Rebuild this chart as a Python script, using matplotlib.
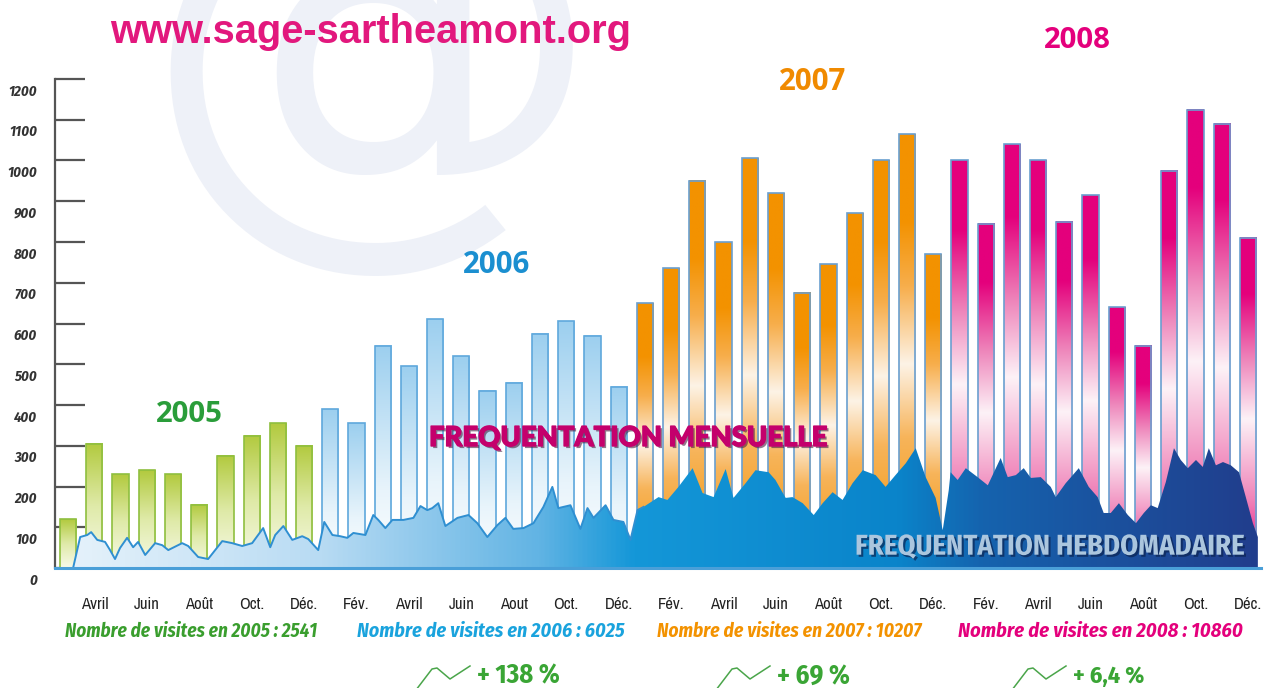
import numpy as np
import matplotlib
matplotlib.use("Agg")
import matplotlib.pyplot as plt
from matplotlib.colors import LinearSegmentedColormap
from matplotlib.patches import Rectangle
import matplotlib.patheffects as pe
import matplotlib.transforms as mtransforms
from matplotlib import font_manager

# ---------------- data ----------------
# monthly visits (2005 starts in March)
visits_2005 = [120, 305, 230, 240, 230, 155, 275, 325, 355, 300]
visits_2006 = [390, 355, 545, 495, 610, 520, 435, 455, 575, 605, 570, 445]
visits_2007 = [650, 735, 950, 800, 1005, 920, 675, 745, 870, 1000, 1065, 770]
visits_2008 = [1000, 845, 1040, 1000, 850, 915, 640, 545, 975, 1125, 1090, 810]

years = ["2005", "2006", "2007", "2008"]
year_totals = ["2541", "6025", "10207", "10860"]
growth_labels = ["+ 138 %", "+ 69 %", "+ 6,4 %"]

month_tick_pos = list(range(1, 46, 2))
month_tick_labels = ["Avril", "Juin", "Août", "Oct.", "Déc.",
                     "Fév.", "Avril", "Juin", "Aout", "Oct.", "Déc.",
                     "Fév.", "Avril", "Juin", "Août", "Oct.", "Déc.",
                     "Fév.", "Avril", "Juin", "Août", "Oct.", "Déc."]
y_ticks = list(range(0, 1300, 100))

# weekly visits; position in months counted from March 2005
week_pos = [0.19, 0.46, 0.73, 0.88, 1.11, 1.41, 1.60, 1.79, 1.98, 2.25, 2.48, 2.67,
            2.94, 3.32, 3.59, 3.82, 4.35, 4.58, 4.96, 5.34, 5.88, 6.26, 6.64, 7.02,
            7.44, 7.71, 7.90, 8.21, 8.55, 8.93, 9.16, 9.54, 9.77, 10.08, 10.38, 10.65,
            10.88, 11.34, 11.64, 11.83, 12.10, 12.37, 12.79, 13.17, 13.44, 13.70, 13.89,
            14.12, 14.39, 14.85, 15.27, 15.61, 15.99, 16.37, 16.68, 16.98, 17.37, 17.75,
            18.13, 18.47, 18.70, 19.16, 19.54, 19.81, 20.04, 20.50, 20.80, 21.18, 21.45,
            21.72, 21.95, 22.52, 22.86, 23.28, 23.82, 24.20, 24.62, 25.08, 25.38, 25.84,
            26.22, 26.72, 26.98, 27.37, 27.63, 28.02, 28.44, 28.78, 29.16, 29.54, 29.92,
            30.31, 30.80, 31.18, 31.56, 31.95, 32.33, 32.71, 33.09, 33.36, 33.59, 33.66,
            33.93, 34.24, 34.69, 35.08, 35.57, 35.84, 36.15, 36.45, 36.72, 37.10, 37.48,
            37.67, 38.05, 38.55, 38.93, 39.27, 39.50, 39.77, 40.08, 40.42, 40.73, 41.03,
            41.30, 41.56, 41.87, 42.18, 42.44, 42.71, 43.02, 43.28, 43.51, 43.78, 44.05,
            44.35, 44.66, 44.92, 45.19, 45.38]
week_visits = [0, 76, 81, 88, 69, 64, 44, 22, 49, 74, 51, 64,
               32, 61, 56, 44, 61, 54, 27, 22, 66, 61, 54, 61,
               98, 51, 81, 103, 69, 78, 71, 44, 113, 81, 78, 74,
               86, 81, 130, 118, 98, 118, 118, 123, 152, 142, 147,
               159, 103, 123, 130, 110, 76, 105, 123, 96, 98, 110,
               150, 199, 147, 154, 96, 147, 123, 154, 118, 113, 69,
               142, 150, 174, 167, 199, 245, 184, 174, 243, 172, 208,
               240, 235, 216, 172, 174, 159, 130, 159, 186, 167, 208,
               240, 228, 199, 228, 257, 294, 223, 172, 93, 191, 235,
               216, 245, 223, 203, 270, 223, 228, 245, 221, 223, 199,
               174, 208, 245, 199, 174, 135, 135, 159, 130, 110, 135,
               154, 147, 211, 294, 265, 245, 265, 248, 294, 252, 260,
               252, 235, 174, 110, 76]

# ---------------- fonts ----------------
TTF = font_manager.fontManager.ttflist


def wnum(w):
    try:
        return int(w)
    except (TypeError, ValueError):
        return font_manager.weight_dict.get(w, 400)


def pick(cands, minw=0, style="normal", default="DejaVu Sans"):
    for c in cands:
        for f in TTF:
            if f.name == c and wnum(f.weight) >= minw and f.style == style:
                return c
    return default


NARROW = pick(["Liberation Sans Narrow", "Arial Narrow", "Archivo Narrow", "Roboto Condensed",
               "Fira Sans Condensed", "PT Sans Narrow", "Encode Sans Condensed"])
COND_BI = pick(["Fira Sans Condensed", "Asap Condensed", "Roboto Condensed", "Encode Sans Condensed",
                "Archivo Narrow", "Liberation Sans Narrow"], minw=600, style="italic", default=NARROW)
COND_B = pick(["Fira Sans Condensed", "Asap Condensed", "Roboto Condensed", "PT Sans Narrow",
               "Archivo Narrow", "Liberation Sans Narrow"], minw=600, default="Liberation Sans")
HEAVY = pick(["Nunito", "Lato", "Roboto", "Open Sans", "Fira Sans"], minw=800, default="DejaVu Sans")
ROUND = pick(["Nunito", "Varela Round", "M PLUS Rounded 1c"], minw=700, default="Liberation Sans")
BOLD = pick(["Open Sans", "PT Sans", "Fira Sans", "Liberation Sans"], minw=700, default="DejaVu Sans")

W, H = 1269, 688
fig = plt.figure(figsize=(W / 100, H / 100), dpi=100)
fig.patch.set_facecolor("white")


def px(x, y):
    return x / W, 1 - y / H


# axes: x=55..1261 px, y=79..568 px
ax = fig.add_axes([55 / W, (H - 568) / H, (1261 - 55) / W, (568 - 79) / H])
ax.patch.set_alpha(0)
ax.set_xlim(-0.5, 45.5)
ax.set_ylim(0, 1200)

# watermark
fig.text(*px(372, 66), "@", fontsize=335, color="#eef1f8", ha="center", va="center",
         family="DejaVu Sans", zorder=-1)

# ---------------- bars ----------------
cm_green = LinearSegmentedColormap.from_list("g", [(0, "#f8faea"), (0.5, "#dfeaa8"), (1, "#b2ca3e")])
cm_blue = LinearSegmentedColormap.from_list("b", [(0, "#ffffff"), (0.35, "#e8f4fb"), (1, "#9ccfef")])
cm_orange = LinearSegmentedColormap.from_list("o", [(0, "#f39200"), (0.3, "#f7b45a"), (0.47, "#fdf3e6"),
                                                    (0.65, "#f7ae4c"), (0.8, "#f39200"), (1, "#f39200")])
cm_mag = LinearSegmentedColormap.from_list("m", [(0, "#e4007c"), (0.2, "#ef80b7"), (0.45, "#fdf2f7"),
                                                 (0.63, "#ee86bb"), (0.83, "#e4007c"), (1, "#e4007c")])
year_series = [visits_2005, visits_2006, visits_2007, visits_2008]
year_cmaps = [cm_green, cm_blue, cm_orange, cm_mag]
year_edges = ["#8fbf3f", "#5fa8dc", "#6a9fd0", "#6a9fd0"]

grad = np.linspace(0, 1, 256).reshape(-1, 1)
bw = 0.62
idx = 0
for series, cmap, ec in zip(year_series, year_cmaps, year_edges):
    for v in series:
        ax.imshow(grad, extent=(idx - bw / 2, idx + bw / 2, 0, v), origin="lower",
                  aspect="auto", cmap=cmap, vmin=0, vmax=1, zorder=2, interpolation="bilinear")
        ax.add_patch(Rectangle((idx - bw / 2, 0), bw, v, fill=False, edgecolor=ec, lw=1.2, zorder=2.1))
        idx += 1

# ---------------- weekly area ----------------
cm_area = LinearSegmentedColormap.from_list("a", [(0, "#e8f3fb"), (0.22, "#b8dbf3"), (0.4, "#62b4e4"),
                                                  (0.48, "#1497d8"), (0.7, "#0a84ca"), (0.77, "#1563ae"),
                                                  (1, "#213d8c")])
poly = ax.fill_between(week_pos, week_visits, 0, facecolor="none", edgecolor="none", zorder=3)
hgrad = np.linspace(0, 1, 512).reshape(1, -1)
im = ax.imshow(hgrad, extent=(-0.5, 45.5, 0, 1200), aspect="auto", cmap=cm_area, zorder=3,
               interpolation="bilinear")
im.set_clip_path(poly.get_paths()[0], transform=ax.transData)
wp = np.array(week_pos)
wv = np.array(week_visits)
m = wp < 22.3
ax.plot(wp[m], wv[m], color="#2f8fd1", lw=1.4, zorder=4)

ax.set_xlim(-0.5, 45.5)
ax.set_ylim(0, 1200)

# ---------------- axes styling ----------------
for s in ["top", "right", "bottom"]:
    ax.spines[s].set_visible(False)
ax.spines["left"].set_color("#555555")
ax.spines["left"].set_linewidth(1.6)
ax.axhline(0, color="#4a9fd8", lw=2.2, zorder=10, clip_on=False)

ax.set_yticks(y_ticks)
ax.set_yticklabels([str(v) for v in y_ticks], fontsize=10.5, style="italic",
                   fontweight="bold", family=COND_BI, color="#333333")
ax.tick_params(axis="y", direction="in", length=21.5, width=1.6, color="#555555", pad=13)
off = mtransforms.ScaledTranslation(0, -11 / 100, fig.dpi_scale_trans)
for lab in ax.get_yticklabels():
    lab.set_transform(lab.get_transform() + off)

ax.set_xticks(month_tick_pos)
ax.set_xticklabels(month_tick_labels, fontsize=12, family=NARROW, color="#222222")
ax.tick_params(axis="x", length=0, pad=21)

# ---------------- texts ----------------
renderer = fig.canvas.get_renderer()


def fit(t, target_w):
    bb = t.get_window_extent(renderer)
    if bb.width > 0:
        t.set_fontsize(t.get_fontsize() * target_w / bb.width)
    return t


fit(fig.text(*px(110, 32), "www.sage-sartheamont.org", fontsize=28, fontweight="bold",
             family=ROUND, color="#e2187d", ha="left", va="center"), 522)

year_colors = ["#2a9d3a", "#1b8fd0", "#f08a00", "#e4007c"]
year_xy = [(189, 414), (497, 265), (813, 82), (1077, 40)]
for yl, c, (x, y) in zip(years, year_colors, year_xy):
    fit(fig.text(*px(x, y), yl, fontsize=21, fontweight="bold", family=BOLD, color=c,
                 ha="center", va="center"), 67)

fit(fig.text(*px(628, 438), "FREQUENTATION MENSUELLE", fontsize=19.5, fontweight="black",
             family=HEAVY, color="#c4006c", ha="center", va="center", zorder=20,
             path_effects=[pe.SimplePatchShadow(offset=(1.5, -1.5), shadow_rgbFace="#4a2040", alpha=0.6),
                           pe.Stroke(linewidth=1.0, foreground="#c4006c"), pe.Normal()]), 398)
fit(fig.text(*px(1050, 547), "FREQUENTATION HEBDOMADAIRE", fontsize=16.5, fontweight="bold",
             family=COND_B, color="#abc6de", ha="center", va="center", zorder=20,
             path_effects=[pe.SimplePatchShadow(offset=(1.5, -1.5), shadow_rgbFace="#0b2452", alpha=0.7),
                           pe.Normal()]), 390)

sum_colors = ["#3a9e2e", "#1aa3dd", "#f39200", "#e4007c"]
sum_x = [65, 357, 657, 958]
sum_w = [253, 268, 265, 285]
for yl, tot, c, x, w in zip(years, year_totals, sum_colors, sum_x, sum_w):
    fit(fig.text(*px(x, 631), f"Nombre de visites en {yl} : {tot}", fontsize=12.5, fontweight="bold",
                 style="italic", family=COND_BI, color=c, ha="left", va="center"), w)

icon_x = [416, 716, 1012]
grow_w = [83, 73, 72]
for g, x0, w in zip(growth_labels, icon_x, grow_w):
    xs = np.array([0, 16, 21, 34, 54]) + x0
    ys = np.array([690, 669, 668, 679, 666])
    fig.add_artist(plt.Line2D(xs / W, 1 - ys / H, color="#4aa54a", lw=1.1))
    fit(fig.text(*px(x0 + 61, 676), g, fontsize=15.5, fontweight="bold", family=COND_B,
                 color="#3aa535", ha="left", va="center"), w)

fig.savefig("out.png", dpi=100)
